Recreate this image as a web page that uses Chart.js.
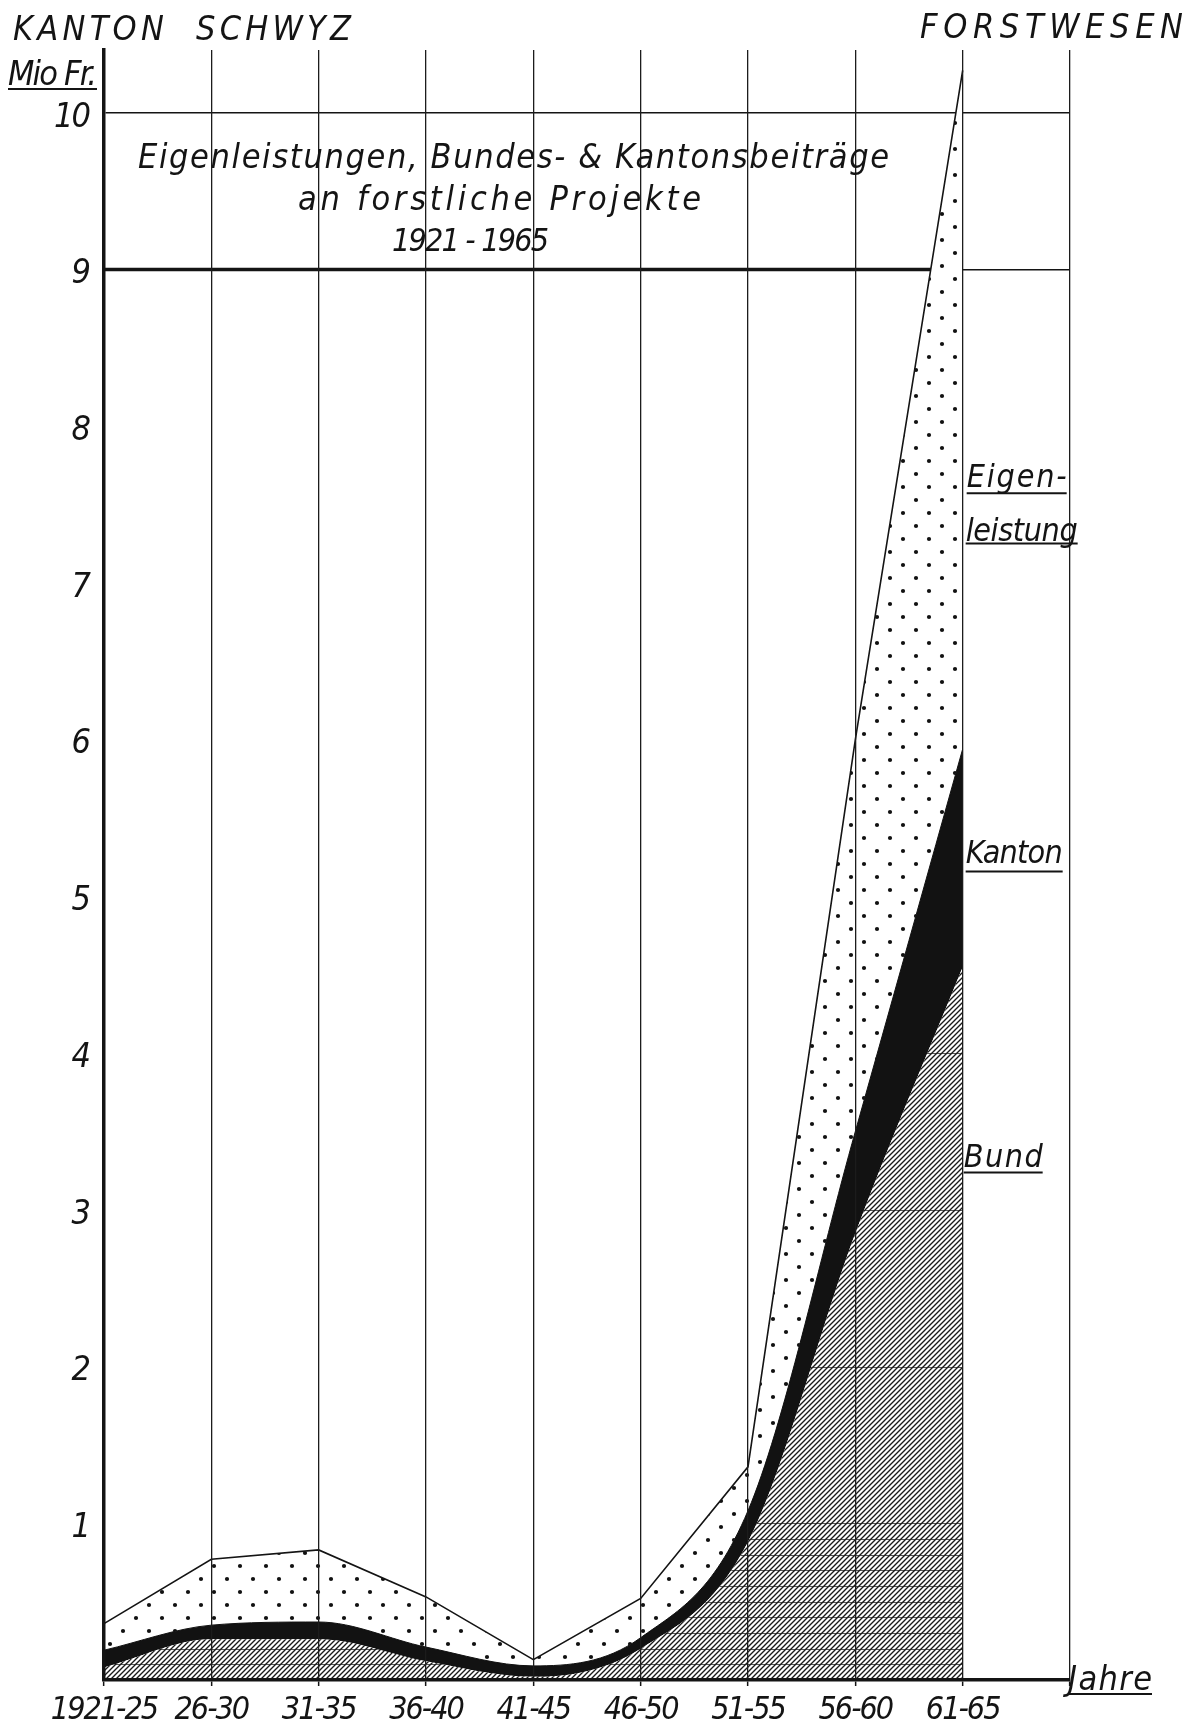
<!DOCTYPE html>
<html>
<head>
<meta charset="utf-8">
<script src="https://cdn.jsdelivr.net/npm/chart.js@4.4.1/dist/chart.umd.min.js"></script>
<style>
html,body{margin:0;padding:0;background:#fff;}
#wrap{width:1192px;height:1729px;position:relative;}
</style>
</head>
<body>
<div id="wrap"><canvas id="c"></canvas></div>
<script>
// ---- data (Mio Fr. per 5-year period) ----
const categories = ['1921-25','26-30','31-35','36-40','41-45','46-50','51-55','56-60','61-65'];
const extraSlot = '';
const bund   = [0.08, 0.26, 0.26, 0.12, 0.02, 0.20, 0.88, 2.85, 4.55];
const kanton = [0.11, 0.09, 0.11, 0.09, 0.07, 0.07, 0.20, 0.65, 1.39];
const eigen  = [0.17, 0.42, 0.46, 0.32, 0.04, 0.25, 0.28, 2.50, 4.33];
const yTicks = [1,2,3,4,5,6,7,8,9,10];
const boxLines = [9, 10];
// faint millimetre-paper lines visible only through the Bund hatching
const paperLines = [0.1,0.2,0.3,0.4,0.5,0.6,0.7,0.8,0.9,1.0,2,3,4];
const seriesNames = ['Bund', 'Kanton', 'Eigen-', 'leistung'];
const titleLines = ['Eigenleistungen, Bundes- & Kantonsbeiträge', 'an forstliche Projekte', '1921 - 1965'];
const headLeft = 'KANTON  SCHWYZ';
const headRight = 'FORSTWESEN';
const yUnit = 'Mio Fr.';
const xUnit = 'Jahre';

const FONT = '"Liberation Sans Narrow", "DejaVu Sans Condensed", "Liberation Sans", "DejaVu Sans", sans-serif';
const INK = '#141414';

function hatchPattern() {
  const s = 5, c = document.createElement('canvas');
  c.width = c.height = s;
  const g = c.getContext('2d');
  g.fillStyle = '#fff'; g.fillRect(0, 0, s, s);
  g.strokeStyle = '#1a1a1a'; g.lineWidth = 1.35;
  g.beginPath();
  g.moveTo(0, s); g.lineTo(s, 0);
  g.moveTo(-s/2, s/2); g.lineTo(s/2, -s/2);
  g.moveTo(s/2, s*1.5); g.lineTo(s*1.5, s/2);
  g.stroke();
  return g.createPattern(c, 'repeat');
}
function dotPattern() {
  const s = 26, c = document.createElement('canvas');
  c.width = c.height = s;
  const g = c.getContext('2d');
  g.fillStyle = '#fff'; g.fillRect(0, 0, s, s);
  g.fillStyle = '#111';
  g.beginPath(); g.arc(6, 6, 2.1, 0, Math.PI*2); g.fill();
  g.beginPath(); g.arc(19, 19, 2.1, 0, Math.PI*2); g.fill();
  return g.createPattern(c, 'repeat');
}

function drawText(ctx, str, x, base, size, width, underline) {
  ctx.save();
  ctx.font = `italic ${size}px ${FONT}`;
  ctx.fillStyle = INK; ctx.strokeStyle = INK;
  ctx.textAlign = 'left'; ctx.textBaseline = 'alphabetic';
  ctx.letterSpacing = '0px';
  let sp = 0;
  if (width) { const w = ctx.measureText(str).width; sp = (width - w) / Math.max(1, str.length - 1); }
  ctx.letterSpacing = sp + 'px';
  ctx.fillText(str, x, base);
  const w2 = ctx.measureText(str).width - sp;
  if (underline) {
    ctx.lineWidth = 2;
    ctx.beginPath(); ctx.moveTo(x, base + underline); ctx.lineTo(x + w2, base + underline); ctx.stroke();
  }
  ctx.restore();
}

const deco = {
  id: 'deco',
  beforeDraw(chart) {
    chart.ctx.letterSpacing = '-2px';   // narrow lettering for tick labels
  },
  beforeDatasetsDraw(chart) {
    const {ctx, chartArea: a, scales: {x, y}} = chart;
    const yy = y.getPixelForValue(boxLines[0]);
    ctx.save();
    ctx.strokeStyle = INK; ctx.lineWidth = 3.5;
    ctx.beginPath(); ctx.moveTo(a.left, yy); ctx.lineTo(x.getPixelForValue(categories.length - 1) - 6, yy); ctx.stroke();
    ctx.restore();
  },
  afterDatasetsDraw(chart) {
    const {ctx, scales: {x, y}} = chart;
    const meta = chart.getDatasetMeta(0);
    const pts = meta.data;
    if (!pts.length) return;
    const y0 = y.getPixelForValue(0);
    ctx.save();
    ctx.beginPath();
    meta.dataset.path(ctx);
    ctx.lineTo(pts[pts.length - 1].x, y0);
    ctx.lineTo(pts[0].x, y0);
    ctx.closePath();
    ctx.clip();
    ctx.strokeStyle = 'rgba(20,20,20,0.7)'; ctx.lineWidth = 1.1;
    for (const v of paperLines) {
      const yy = Math.round(y.getPixelForValue(v)) + 0.5;
      ctx.beginPath(); ctx.moveTo(pts[0].x, yy); ctx.lineTo(pts[pts.length - 1].x, yy); ctx.stroke();
    }
    ctx.restore();
  },
  afterDraw(chart) {
    const {ctx, chartArea: a, scales: {x, y}} = chart;
    drawText(ctx, headLeft, 13, 40, 34, 338);
    drawText(ctx, headRight, 920, 38, 34, 263);
    drawText(ctx, yUnit, 8, 85, 34, 89, 4);
    drawText(ctx, titleLines[0], 138, 168, 34, 751);
    drawText(ctx, titleLines[1], 298, 210, 34, 403);
    drawText(ctx, titleLines[2], 392, 251, 32, 157);
    const lx = x.getPixelForValue(categories.length - 1) + 4;
    drawText(ctx, seriesNames[2], lx, y.getPixelForValue(7.61), 32, 100, 6);
    drawText(ctx, seriesNames[3], lx - 1, y.getPixelForValue(7.27), 32, 112, 3);
    drawText(ctx, seriesNames[1], lx - 1, y.getPixelForValue(5.21), 32, 97, 8);
    drawText(ctx, seriesNames[0], lx - 3, y.getPixelForValue(3.27), 32, 79, 5);
    drawText(ctx, xUnit, x.getPixelForValue(categories.length) - 2, a.bottom + 10, 34, 84, 4);
  }
};

new Chart(document.getElementById('c'), {
  type: 'line',
  data: {
    labels: [...categories, extraSlot],
    datasets: [
      { label: seriesNames[0], data: bund, fill: 'origin', backgroundColor: hatchPattern(),
        borderWidth: 0, borderColor: 'rgba(0,0,0,0)', pointRadius: 0, cubicInterpolationMode: 'monotone' },
      { label: seriesNames[1], data: kanton, fill: '-1', backgroundColor: '#121212',
        borderWidth: 1, borderColor: '#121212', pointRadius: 0, cubicInterpolationMode: 'monotone' },
      { label: seriesNames[2] + seriesNames[3], data: eigen, fill: '-1', backgroundColor: dotPattern(),
        borderWidth: 1.6, borderColor: INK, pointRadius: 0, tension: 0 }
    ]
  },
  options: {
    responsive: true,
    maintainAspectRatio: false,
    animation: false,
    layout: { padding: { left: 0, right: 122, top: 50, bottom: 0 } },
    plugins: { legend: { display: false }, tooltip: { enabled: false } },
    scales: {
      x: {
        offset: false,
        afterFit(s) { s.height = 49; },
        grid: { color: '#1c1c1c', lineWidth: 1.3, z: 1, drawTicks: true, tickLength: 6, tickColor: INK, tickWidth: 1.5 },
        border: { display: true, color: INK, width: 3.5, z: 1 },
        ticks: { autoSkip: false, maxRotation: 0, minRotation: 0, padding: 5, color: INK,
                 font: { family: FONT, size: 32, style: 'italic' } }
      },
      y: {
        stacked: true,
        min: 0, max: 10.4,
        afterFit(s) { s.width = 104; },
        afterBuildTicks(s) { s.ticks = [0, ...yTicks].map(v => ({ value: v })); },
        grid: {
          drawTicks: false,
          lineWidth: 1.4,
          color: c => (c.tick && boxLines.includes(c.tick.value)) ? INK : 'rgba(0,0,0,0)'
        },
        border: { display: true, color: INK, width: 3.5, z: 1 },
        ticks: {
          padding: 15, labelOffset: 5, color: INK,
          font: { family: FONT, size: 34, style: 'italic' },
          callback: v => yTicks.includes(v) ? String(v) : ''
        }
      }
    }
  },
  plugins: [deco]
});
</script>
</body>
</html>
